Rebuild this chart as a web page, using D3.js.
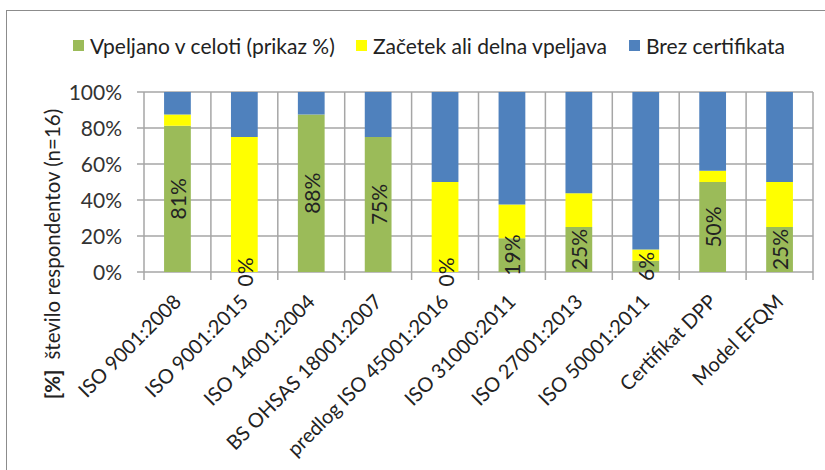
<!DOCTYPE html>
<html>
<head>
<meta charset="utf-8">
<script src="https://cdn.jsdelivr.net/npm/d3@7"></script>
<style>
  body { margin: 0; background: #fff; }
  svg { display: block; font-family: Lato, "Open Sans", sans-serif; }
</style>
</head>
<body>
<div id="chart"></div>
<script>
// categories and series (share of 16 respondents, in %)
var categories = ["ISO 9001:2008", "ISO 9001:2015", "ISO 14001:2004", "BS OHSAS 18001:2007",
  "predlog ISO 45001:2016", "ISO 31000:2011", "ISO 27001:2013", "ISO 50001:2011",
  "Certifikat DPP", "Model EFQM"]
var vpeljano = [81.25, 0, 87.5, 75, 0, 18.75, 25, 6.25, 50, 25]
var zacetek = [6.25, 75, 0, 0, 50, 18.75, 18.75, 6.25, 6.25, 25]
var brez = [12.5, 25, 12.5, 25, 50, 62.5, 56.25, 87.5, 43.75, 50]
var seriesNames = ["Vpeljano v celoti (prikaz %)", "Začetek ali delna vpeljava", "Brez certifikata"]
var yTicks = [0, 20, 40, 60, 80, 100]

var width = 825, height = 470
var colors = ["#9bbb59", "#ffff00", "#4f81bd"]
var gridColor = "#a6a6a6"
var textColor = "#222"

var svg = d3.select("#chart").append("svg")
  .attr("width", width)
  .attr("height", height)

// outer chart border
svg.append("rect")
  .attr("x", 6.5).attr("y", 10.5)
  .attr("width", 830).attr("height", 470)
  .attr("fill", "none").attr("stroke", "#8c8c8c").attr("stroke-width", 1)

var x = d3.scaleBand()
  .domain(categories)
  .range([144, 813])
  .paddingInner(0.6)
  .paddingOuter(0.3)

var y = d3.scaleLinear()
  .domain([0, 100])
  .range([272, 92])

var step = x.step()

// horizontal grid + y tick marks
svg.append("g").selectAll("line")
  .data(yTicks)
  .enter().append("line")
  .attr("x1", 137).attr("x2", 813)
  .attr("y1", function(d) { return y(d) }).attr("y2", function(d) { return y(d) })
  .attr("stroke", gridColor).attr("stroke-width", 1.5)

// vertical grid at category boundaries
svg.append("g").selectAll("line")
  .data(d3.range(categories.length + 1))
  .enter().append("line")
  .attr("x1", function(i) { return 144 + i * step })
  .attr("x2", function(i) { return 144 + i * step })
  .attr("y1", y(100)).attr("y2", y(0) + 8)
  .attr("stroke", gridColor).attr("stroke-width", 1.5)

svg.append("g").selectAll("text")
  .data(yTicks)
  .enter().append("text")
  .attr("x", 122).attr("y", function(d) { return y(d) + 7.5 })
  .attr("text-anchor", "end")
  .style("font-size", "21px").attr("fill", "#333")
  .text(function(d) { return d + "%" })

// stacked bars
var rows = categories.map(function(c, i) {
  return { cat: c, v0: vpeljano[i], v1: zacetek[i], v2: brez[i] }
})
var stack = d3.stack().keys(["v0", "v1", "v2"])
var layers = stack(rows)

svg.append("g").selectAll("g")
  .data(layers)
  .enter().append("g")
  .attr("fill", function(d, i) { return colors[i] })
  .selectAll("rect")
  .data(function(d) { return d })
  .enter().append("rect")
  .attr("x", function(d) { return x(d.data.cat) })
  .attr("width", x.bandwidth())
  .attr("y", function(d) { return y(d[1]) })
  .attr("height", function(d) { return y(d[0]) - y(d[1]) })

// value labels on the green segment
svg.append("g").selectAll("text")
  .data(rows)
  .enter().append("text")
  .attr("transform", function(d) {
    return "translate(" + (x(d.cat) + x.bandwidth() / 2 + 8.5) + "," + y(d.v0 / 2) + ") rotate(-90)"
  })
  .attr("text-anchor", "middle")
  .style("font-size", "21px").attr("fill", textColor)
  .text(function(d) { return Math.round(d.v0) + "%" })

// category labels
svg.append("g").selectAll("text")
  .data(categories)
  .enter().append("text")
  .attr("transform", function(d) {
    return "translate(" + (x(d) + x.bandwidth() / 2 + 5) + "," + 303 + ") rotate(-45)"
  })
  .attr("text-anchor", "end")
  .style("font-size", "20px").attr("fill", textColor)
  .text(function(d) { return d })

// y axis title
var yt = svg.append("text")
  .attr("transform", "translate(60,254) rotate(-90)")
  .attr("text-anchor", "middle")
  .style("font-size", "20.5px").attr("fill", textColor)
yt.append("tspan").style("font-weight", "bold").text("[%]")
yt.append("tspan").attr("dx", 10).text("število respondentov (n=16)")

// legend
var legendX = [73, 356, 629]
var lg = svg.append("g").selectAll("g")
  .data(seriesNames)
  .enter().append("g")
  .attr("transform", function(d, i) { return "translate(" + legendX[i] + ",46)" })
lg.append("rect")
  .attr("x", 0).attr("y", -6).attr("width", 11).attr("height", 11)
  .attr("fill", function(d, i) { return colors[i] })
lg.append("text")
  .attr("x", 17).attr("y", 8)
  .style("font-size", "21px").attr("fill", textColor)
  .text(function(d) { return d })
</script>
</body>
</html>
